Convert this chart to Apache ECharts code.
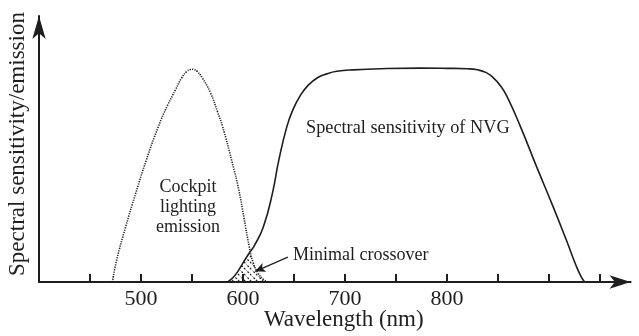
<!DOCTYPE html>
<html>
<head>
<meta charset="utf-8">
<script src="https://cdn.jsdelivr.net/npm/echarts@6/dist/echarts.min.js"></script>
<style>
  html, body { margin: 0; padding: 0; background: #fff; }
  #chart { width: 639px; height: 336px; }
</style>
</head>
<body>
<div id="chart"></div>
<script>
// Cockpit lighting emission (dotted curve)
const cockpitNm  = [472, 476, 485, 495, 505, 517, 526, 534, 540, 545, 548, 550, 552, 555, 560, 568, 575, 580, 589, 596, 601, 606, 610, 615, 620, 624];
const cockpitVal = [0, 0.10, 0.26, 0.42, 0.57, 0.73, 0.83, 0.905, 0.96, 0.99, 0.998, 1.0, 0.998, 0.99, 0.96, 0.89, 0.8, 0.73, 0.57, 0.43, 0.3, 0.17, 0.09, 0.04, 0.012, 0];

// NVG spectral sensitivity (solid curve)
const nvgNm  = [585, 590, 595, 600, 606, 611, 620, 629, 635, 643, 649, 656, 664, 673, 682, 692, 708, 741, 774, 800, 820, 830, 838, 845, 852, 859, 872, 888, 904, 917, 927, 932, 935];
const nvgVal = [0, 0.02, 0.05, 0.09, 0.135, 0.17, 0.26, 0.42, 0.57, 0.73, 0.81, 0.875, 0.925, 0.96, 0.978, 0.99, 0.997, 1.003, 1.005, 1.004, 1.002, 0.997, 0.985, 0.962, 0.925, 0.87, 0.73, 0.54, 0.354, 0.197, 0.072, 0.02, 0];

// Overlap of the two curves (hatched)
const crossNm  = [585, 590, 595, 600, 606, 607, 610, 615, 620, 624];
const crossVal = [0, 0.02, 0.05, 0.09, 0.135, 0.142, 0.09, 0.04, 0.012, 0];

// Axis ticks and labels
const tickValues  = [450, 500, 550, 600, 650, 700, 750, 800, 850, 900, 950];
const labelValues = [500, 600, 700, 800];

const pairs = (xs, ys) => xs.map((x, i) => [x, ys[i]]);

// diagonal dashed hatch used for the overlap area
function hatchPattern() {
  const c = document.createElement('canvas');
  c.width = 6; c.height = 6;
  const g = c.getContext('2d');
  g.strokeStyle = '#222';
  g.lineWidth = 1.2;
  g.setLineDash([2, 1.5]);
  g.beginPath();
  g.moveTo(-1, -1); g.lineTo(7, 7);
  g.stroke();
  return c;
}

const serif = 'Liberation Serif';
const ink = '#1e1e1e';

const chart = echarts.init(document.getElementById('chart'), null, { renderer: 'canvas' });

chart.setOption({
  animation: false,
  backgroundColor: '#fff',
  grid: { left: 39, right: 8.4, top: 16, bottom: 54, containLabel: false, outerBoundsMode: 'none' },
  xAxis: {
    type: 'value',
    min: 400, max: 980,
    name: 'Wavelength (nm)',
    nameLocation: 'middle',
    nameGap: 26,
    nameMoveOverlap: false,
    nameTextStyle: { fontFamily: serif, fontSize: 23, color: ink, padding: [0, 0, 0, 18] },
    axisLine: { lineStyle: { color: ink, width: 2 }, symbol: ['none', 'arrow'], symbolSize: [10, 21] },
    axisTick: { inside: true, length: 8, lineStyle: { color: ink, width: 2 }, customValues: tickValues },
    axisLabel: { fontFamily: serif, fontSize: 22, color: ink, margin: 6, customValues: labelValues },
    splitLine: { show: false }
  },
  yAxis: {
    type: 'value',
    min: 0, max: 1.25,
    name: 'Spectral sensitivity/emission',
    nameLocation: 'middle',
    nameGap: 10,
    nameMoveOverlap: false,
    nameTextStyle: { fontFamily: serif, fontSize: 23, color: ink, padding: [0, 0, 0, 10] },
    axisLine: { show: true, lineStyle: { color: ink, width: 2 }, symbol: ['none', 'arrow'], symbolSize: [10, 23] },
    axisTick: { show: false },
    axisLabel: { show: false },
    splitLine: { show: false }
  },
  series: [
    {
      name: 'Minimal crossover',
      type: 'line',
      data: pairs(crossNm, crossVal),
      smooth: 0.3,
      symbol: 'none',
      lineStyle: { width: 0 },
      areaStyle: { color: { image: hatchPattern(), repeat: 'repeat' }, opacity: 1 },
      z: 1,
      markLine: {
        silent: true,
        symbol: ['none', 'arrow'],
        symbolSize: [7, 10],
        lineStyle: { color: ink, width: 1.2, type: 'solid' },
        label: { show: false },
        data: [[{ coord: [644, 0.117] }, { coord: [612, 0.05] }]]
      }
    },
    {
      name: 'Cockpit lighting emission',
      type: 'line',
      data: pairs(cockpitNm, cockpitVal),
      smooth: 0.5,
      symbol: 'none',
      lineStyle: { color: ink, width: 1.6, type: [1.2, 1.2] },
      z: 3
    },
    {
      name: 'Spectral sensitivity of NVG',
      type: 'line',
      data: pairs(nvgNm, nvgVal),
      smooth: 0.5,
      symbol: 'none',
      lineStyle: { color: ink, width: 1.6 },
      z: 3
    }
  ],
  graphic: [
    {
      type: 'text',
      style: { x: 188, y: 177, text: 'Cockpit\nlighting\nemission', font: '18px "Liberation Serif"', fill: ink, align: 'center', verticalAlign: 'top', lineHeight: 20 }
    },
    {
      type: 'text',
      style: { x: 306, y: 128, text: 'Spectral sensitivity of NVG', font: '18.3px "Liberation Serif"', fill: ink, align: 'left', verticalAlign: 'middle' }
    },
    {
      type: 'text',
      style: { x: 293, y: 255, text: 'Minimal crossover', font: '18px "Liberation Serif"', fill: ink, align: 'left', verticalAlign: 'middle' }
    }
  ]
});
</script>
</body>
</html>
